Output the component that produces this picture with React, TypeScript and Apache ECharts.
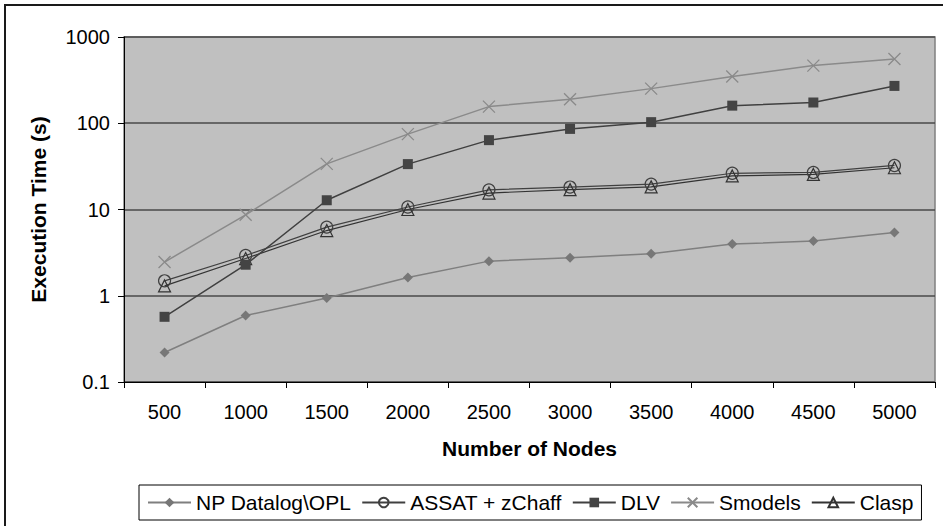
import React, { useEffect, useRef } from 'react';
import * as echarts from 'echarts';

const categories = ['500', '1000', '1500', '2000', '2500', '3000', '3500', '4000', '4500', '5000'];
const npDatalog = [0.22, 0.59, 0.94, 1.63, 2.52, 2.76, 3.07, 3.97, 4.3, 5.42];
const assat = [1.49, 2.93, 6.25, 10.7, 16.9, 18.2, 19.7, 26.3, 26.9, 32.4];
const dlv = [0.57, 2.29, 12.8, 33.6, 63.7, 86, 103, 160, 174, 271];
const smodels = [2.46, 8.68, 33.8, 74.8, 156, 190, 252, 348, 466, 557];
const clasp = [1.3, 2.7, 5.7, 10.0, 15.5, 17.0, 18.3, 24.5, 25.5, 30.5];

const FONT = "'Liberation Sans', Arial, Helvetica, sans-serif";

export default function App() {
  const ref = useRef<HTMLDivElement>(null);
  useEffect(() => {
    const chart = echarts.init(ref.current!, null, { renderer: 'svg' });
    chart.setOption({
      animation: false,
      backgroundColor: '#ffffff',
      textStyle: { fontFamily: FONT },
      graphic: [
        {
          type: 'rect',
          silent: true,
          z: 100,
          shape: { x: 5, y: 5, width: 1000, height: 1000 },
          style: { fill: 'none', stroke: '#1a1a1a', lineWidth: 2 },
        },
      ],
      grid: {
        left: 124,
        right: 8,
        top: 37,
        bottom: 144,
        show: true,
        backgroundColor: '#c0c0c0',
        borderColor: '#808080',
        borderWidth: 1.5,
      },
      legend: {
        left: 139,
        top: 485,
        padding: [7, 8, 7, 8],
        itemGap: 10,
        itemWidth: 43,
        itemHeight: 12,
        borderColor: '#000',
        borderWidth: 1,
        textStyle: { fontSize: 21, color: '#000', fontFamily: FONT },
        data: ['NP Datalog\\OPL', 'ASSAT + zChaff', 'DLV', 'Smodels', 'Clasp'],
      },
      xAxis: {
        type: 'category',
        data: categories,
        boundaryGap: true,
        name: 'Number of Nodes',
        nameLocation: 'middle',
        nameGap: 56,
        nameTextStyle: { fontSize: 21, fontWeight: 'bold', color: '#000', fontFamily: FONT },
        axisLine: { lineStyle: { color: '#000', width: 1 } },
        axisTick: { show: true, alignWithLabel: false, length: 6, lineStyle: { color: '#000' } },
        axisLabel: { fontSize: 20, color: '#000', margin: 20, fontFamily: FONT },
        splitLine: { show: false },
      },
      yAxis: {
        type: 'log',
        logBase: 10,
        min: 0.1,
        max: 1000,
        name: 'Execution Time (s)',
        nameLocation: 'middle',
        nameGap: 75,
        nameTextStyle: { fontSize: 21, fontWeight: 'bold', color: '#000', fontFamily: FONT },
        axisLine: { show: true, lineStyle: { color: '#000', width: 1 } },
        axisTick: { show: true, length: 6, lineStyle: { color: '#000' } },
        axisLabel: {
          fontSize: 20,
          color: '#000',
          margin: 14,
          fontFamily: FONT,
          formatter: (v: number) => String(Number(v.toPrecision(3))),
        },
        splitLine: { show: true, lineStyle: { color: '#4a4a4a', width: 1.5 } },
      },
      series: [
        {
          name: 'NP Datalog\\OPL',
          type: 'line',
          data: npDatalog,
          symbol: 'diamond',
          symbolSize: 10,
          lineStyle: { color: '#7f7f7f', width: 1.5 },
          itemStyle: { color: '#777777', borderWidth: 0 },
          z: 2,
        },
        {
          name: 'ASSAT + zChaff',
          type: 'line',
          data: assat,
          symbol: 'circle',
          symbolSize: 12,
          lineStyle: { color: '#404040', width: 1.2 },
          itemStyle: { color: 'rgba(0,0,0,0)', borderColor: '#404040', borderWidth: 1.2 },
          z: 3,
        },
        {
          name: 'DLV',
          type: 'line',
          data: dlv,
          symbol: 'rect',
          symbolSize: 10,
          lineStyle: { color: '#404040', width: 1.5 },
          itemStyle: { color: '#444444', borderWidth: 0 },
          z: 4,
        },
        {
          name: 'Smodels',
          type: 'line',
          data: smodels,
          symbol: 'path://M0,0L10,10M10,0L0,10',
          symbolSize: 12,
          lineStyle: { color: '#8a8a8a', width: 1.5 },
          itemStyle: { color: '#8a8a8a', borderColor: '#8a8a8a', borderWidth: 1.3 },
          z: 2,
        },
        {
          name: 'Clasp',
          type: 'line',
          data: clasp,
          symbol: 'triangle',
          symbolSize: 12,
          lineStyle: { color: '#333333', width: 1.2 },
          itemStyle: { color: 'rgba(0,0,0,0)', borderColor: '#333333', borderWidth: 1.2 },
          z: 3,
        },
      ],
    });
    return () => chart.dispose();
  }, []);
  return (
    <div
      ref={ref}
      style={{ position: 'fixed', left: 0, top: 0, width: 943, height: 526 }}
    />
  );
}
